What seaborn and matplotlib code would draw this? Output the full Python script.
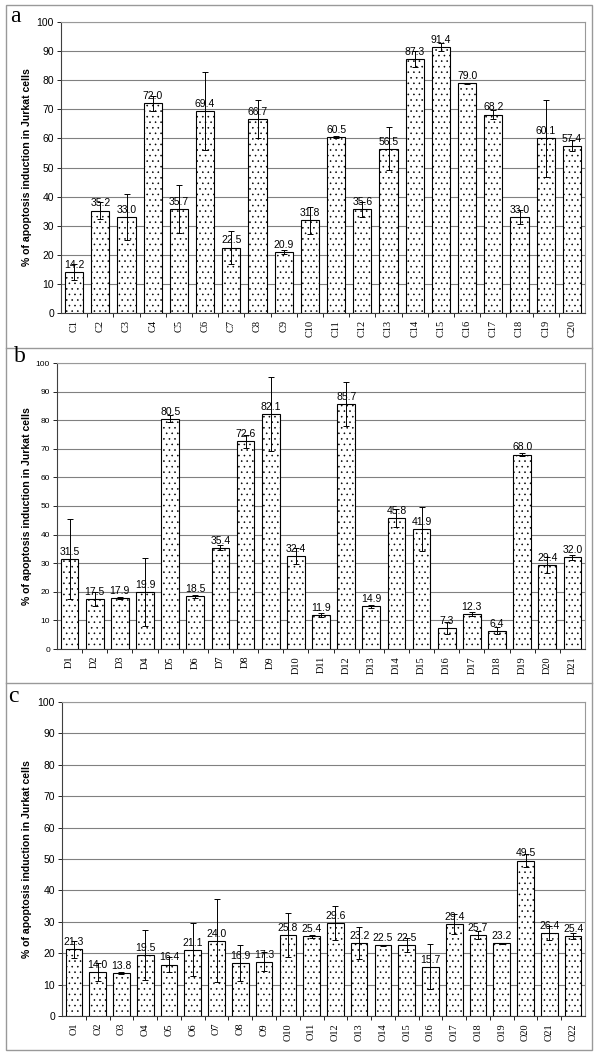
import numpy as np
import pandas as pd
import matplotlib
matplotlib.use('Agg')
import matplotlib.pyplot as plt
import seaborn as sns
from matplotlib.patches import Rectangle
from matplotlib.ticker import MultipleLocator

# panel a - C compounds
c_labels = ['C%d' % i for i in range(1, 21)]
c_values = [14.2, 35.2, 33.0, 72.0, 35.7, 69.4, 22.5, 66.7, 20.9, 31.8,
            60.5, 35.6, 56.5, 87.3, 91.4, 79.0, 68.2, 33.0, 60.1, 57.4]
c_errors = [2.7, 3.0, 8.0, 2.5, 8.2, 13.3, 5.7, 6.5, 0.7, 4.6,
            0.3, 2.6, 7.4, 2.9, 1.3, 0.2, 1.7, 2.3, 13.2, 1.9]

# panel b - D compounds
d_labels = ['D%d' % i for i in range(1, 22)]
d_values = [31.5, 17.5, 17.9, 19.9, 80.5, 18.5, 35.4, 72.6, 82.1, 32.4, 11.9,
            85.7, 14.9, 45.8, 41.9, 7.3, 12.3, 6.4, 68.0, 29.4, 32.0]
d_errors = [14.0, 2.4, 0.3, 11.8, 1.3, 0.5, 0.9, 2.2, 13.0, 2.8, 0.8,
            7.7, 0.6, 3.3, 7.6, 2.2, 0.6, 1.3, 0.6, 2.9, 0.8]

# panel c - O compounds
o_labels = ['O%d' % i for i in range(1, 23)]
o_values = [21.3, 14.0, 13.8, 19.5, 16.4, 21.1, 24.0, 16.9, 17.3, 25.8, 25.4,
            29.6, 23.2, 22.5, 22.5, 15.7, 29.4, 25.7, 23.2, 49.5, 26.4, 25.4]
o_errors = [2.7, 3.0, 0.3, 8.0, 2.5, 8.5, 13.3, 5.8, 3.0, 6.9, 0.4,
            5.3, 5.2, 0.2, 2.2, 7.2, 3.2, 1.3, 0.2, 2.0, 2.2, 1.0]

plt.rcParams['hatch.linewidth'] = 0.4
plt.rcParams['hatch.color'] = '#555555'
plt.rcParams['font.family'] = ['Liberation Sans', 'DejaVu Sans']

W, H = 600, 1057
fig = plt.figure(figsize=(W / 100, H / 100), dpi=100)

# outer frame and separators
frame = dict(transform=fig.transFigure, fill=False, edgecolor='#999999', linewidth=1.0)
fig.patches.append(Rectangle((6 / W, 1 - 1050 / H), 586 / W, 1045 / H, **frame))
for ysep in [347.5, 683]:
    fig.lines.append(plt.Line2D([6 / W, 592 / W], [1 - ysep / H] * 2,
                                transform=fig.transFigure, color='#999999', linewidth=1.0))

panels = [
    ('a', c_labels, c_values, c_errors, (61, 22, 585, 313), 7.5, (15, 17)),
    ('b', d_labels, d_values, d_errors, (57, 363, 585, 649), 6.0, (20, 357)),
    ('c', o_labels, o_values, o_errors, (62, 702, 585, 1016), 7.5, (13, 697)),
]

for letter, labels, values, errors, box, ytick_fs, lpos in panels:
    x0, y0, x1, y1 = box
    ax = fig.add_axes([x0 / W, 1 - y1 / H, (x1 - x0) / W, (y1 - y0) / H])
    df = pd.DataFrame({'compound': labels, 'value': values, 'err': errors})
    sns.barplot(data=df, x='compound', y='value', ax=ax, color='white',
                edgecolor='black', linewidth=0.8, width=0.7, hatch='...',
                errorbar=None, zorder=3)
    for p in ax.patches:
        p.set_facecolor('white')
    pos = np.arange(len(labels))
    ax.errorbar(pos, df['value'], yerr=df['err'], fmt='none', ecolor='black',
                elinewidth=0.7, capsize=2, capthick=0.7, zorder=4)
    for i, v in enumerate(values):
        ax.annotate('%.1f' % v, (i, v), xytext=(0, 1.5), textcoords='offset points',
                    ha='center', va='bottom', fontsize=7.5, zorder=5)

    ax.set_xlim(-0.5, len(labels) - 0.5)
    ax.set_ylim(0, 100)
    ax.yaxis.set_major_locator(MultipleLocator(10))
    ax.grid(axis='y', color='#808080', linewidth=0.8, zorder=0)
    ax.grid(axis='x', visible=False)
    ax.set_axisbelow(True)

    ax.set_xticks(pos)
    ax.set_xticklabels(labels, rotation=90, fontsize=7.5, family='Liberation Serif')
    ax.set_xticks(pos[:-1] + 0.5, minor=True)
    ax.tick_params(axis='x', which='major', length=0, pad=5)
    ax.tick_params(axis='x', which='minor', length=3, width=0.6, direction='out')
    ax.tick_params(axis='y', labelsize=ytick_fs, length=3, width=0.6, direction='out', pad=2)

    for s in ['left', 'bottom']:
        ax.spines[s].set_color('#404040')
        ax.spines[s].set_linewidth(0.8)
    for s in ['top', 'right']:
        ax.spines[s].set_color('#999999')
        ax.spines[s].set_linewidth(0.8)

    ax.set_xlabel('')
    ax.set_ylabel('% of apoptosis induction in Jurkat cells', fontsize=7.6, fontweight='bold')
    ax.yaxis.set_label_coords((32 - x0) / (x1 - x0), 0.5)

    fig.text(lpos[0] / W, 1 - lpos[1] / H, letter, fontsize=17, family='Liberation Serif',
             ha='center', va='center')

fig.savefig('out.png', dpi=100)
